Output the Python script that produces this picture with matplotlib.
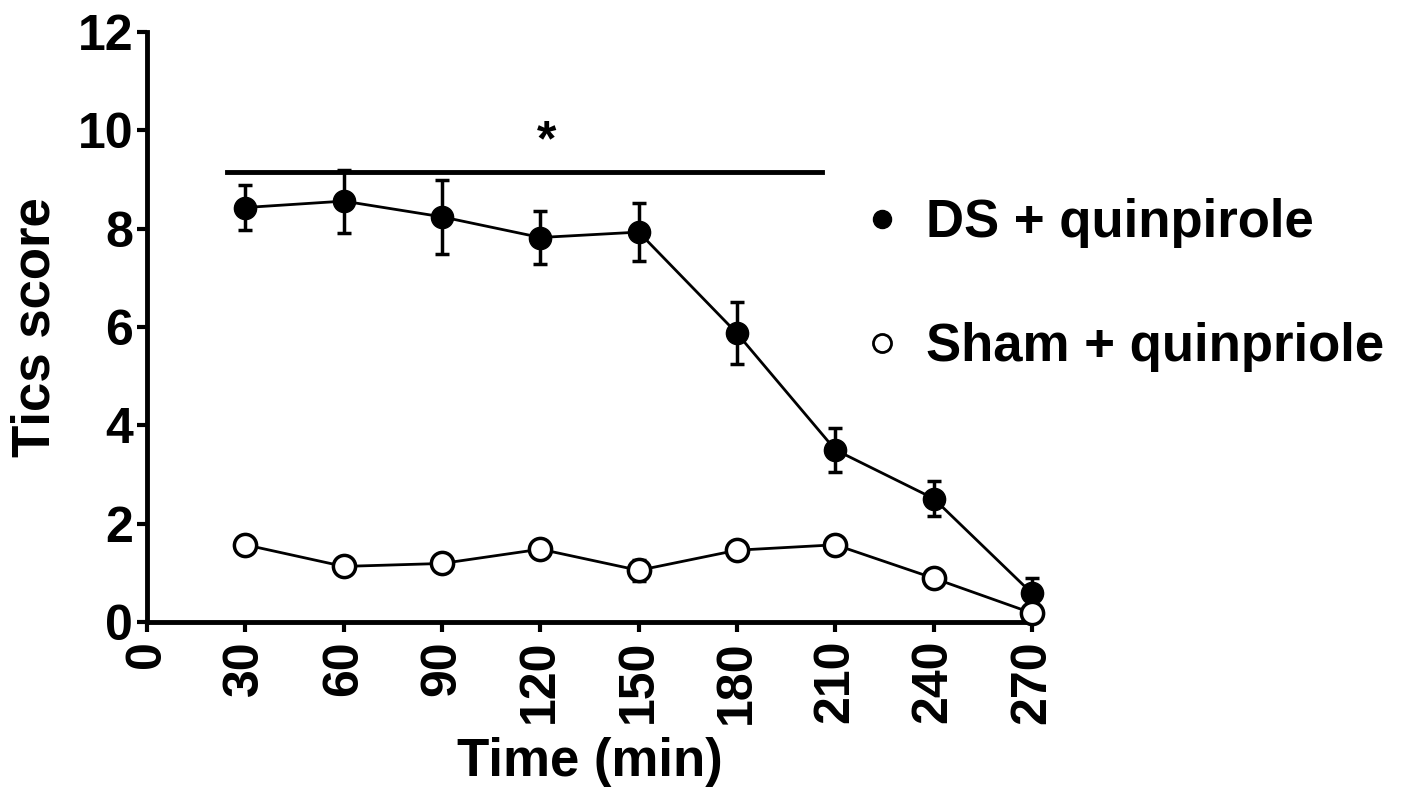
import matplotlib
matplotlib.use('Agg')
import matplotlib.pyplot as plt
from matplotlib.lines import Line2D

# data
time = [30, 60, 90, 120, 150, 180, 210, 240, 270]
ds_mean = [8.43, 8.56, 8.24, 7.82, 7.93, 5.87, 3.50, 2.51, 0.58]
ds_err = [0.45, 0.64, 0.75, 0.54, 0.59, 0.63, 0.44, 0.36, 0.32]
sham_mean = [1.57, 1.13, 1.19, 1.48, 1.05, 1.46, 1.57, 0.89, 0.18]
sham_err = [0.12, 0.12, 0.12, 0.12, 0.22, 0.12, 0.12, 0.12, 0.10]
labels = ['DS + quinpirole', 'Sham + quinpriole']
sig_span = [24.5, 206]
sig_y = 9.15
star_x = 122

plt.rcParams['font.family'] = 'Liberation Sans'
plt.rcParams['font.weight'] = 'bold'
plt.rcParams['axes.labelweight'] = 'bold'
plt.rcParams['font.size'] = 36

fig = plt.figure(figsize=(14.03, 7.88), dpi=100)
ax = fig.add_axes([0.1048, 0.2107, 0.6308, 0.7487])

ax.errorbar(time, ds_mean, yerr=ds_err, color='black', lw=2, marker='o', ms=16,
            mfc='black', mec='black', elinewidth=2.5, capsize=5, capthick=2.5,
            clip_on=False, zorder=3)
ax.errorbar(time, sham_mean, yerr=sham_err, color='black', lw=2, marker='o', ms=16,
            mfc='white', mec='black', mew=2.5, elinewidth=2.5, capsize=5, capthick=2.5,
            clip_on=False, zorder=4)

ax.plot(sig_span, [sig_y, sig_y], color='black', lw=3.5, clip_on=False)
ax.text(star_x, sig_y + 0.6, '*', ha='center', va='center', fontsize=36)

ax.set_xlim(0, 270)
ax.set_ylim(0, 12)
ax.set_xticks(range(0, 271, 30))
ax.set_yticks(range(0, 13, 2))
ax.tick_params(axis='x', labelrotation=90, length=7, width=3, pad=6)
ax.tick_params(axis='y', length=7, width=3, pad=3)
for s in ['top', 'right']:
    ax.spines[s].set_visible(False)
for s in ['left', 'bottom']:
    ax.spines[s].set_linewidth(3.5)

ax.set_xlabel('Time (min)', labelpad=10, fontsize=38)
ax.set_ylabel('Tics score', labelpad=12, fontsize=38)

handles = [Line2D([], [], ls='none', marker='o', ms=13, mfc='black', mec='black'),
           Line2D([], [], ls='none', marker='o', ms=13, mfc='white', mec='black', mew=2)]
fig.legend(handles, labels, loc='upper left', bbox_to_anchor=(0.602, 0.775),
           frameon=False, handlelength=0.6, handletextpad=0.55, labelspacing=1.4,
           borderaxespad=0, fontsize=38)

fig.savefig('out.png', dpi=100)
plt.close()
